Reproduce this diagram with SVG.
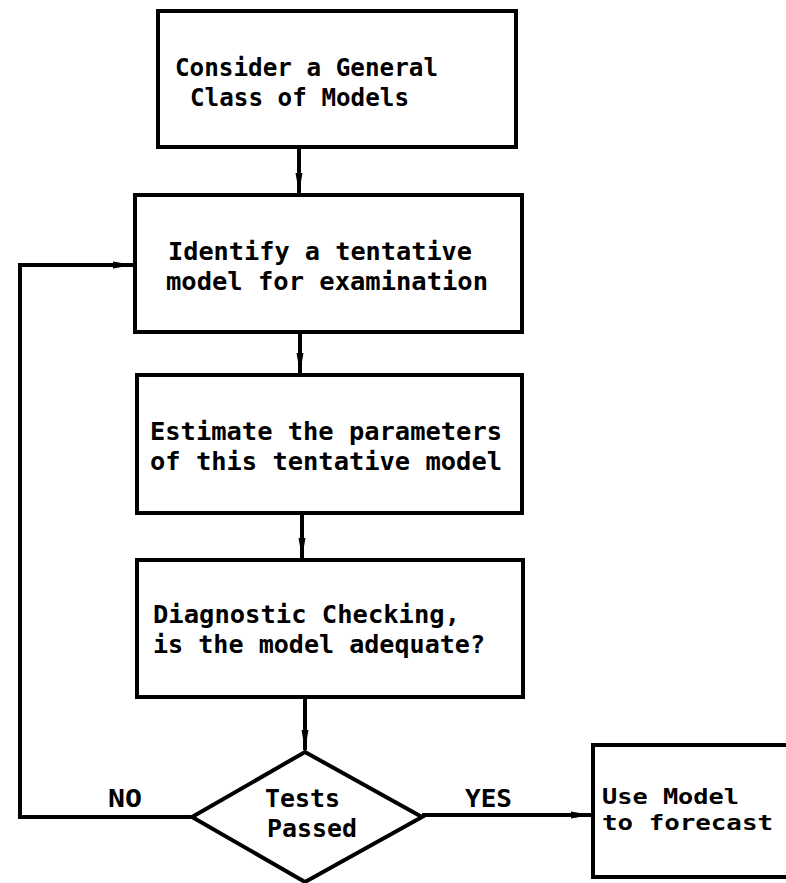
<svg xmlns="http://www.w3.org/2000/svg" width="786" height="883" viewBox="0 0 786 883">
<style>
.box{fill:#fff;stroke:#000;stroke-width:4}
.ln{fill:none;stroke:#000;stroke-width:4}
text{font-family:"DejaVu Sans Mono","Liberation Mono",monospace;font-weight:bold;font-size:25px;fill:#000}
.s22{font-size:22px}
</style>
<defs>
<marker id="ah" viewBox="0 0 20 10" refX="20" refY="5" markerWidth="20" markerHeight="10" markerUnits="userSpaceOnUse" orient="auto">
<path d="M0,1.5 L20,5 L0,8.5 Z" fill="#000"/>
</marker>
</defs>
<rect width="786" height="883" fill="#fff"/>
<g id="connectors">
<line class="ln" x1="299" y1="147" x2="299" y2="193" marker-end="url(#ah)"/>
<line class="ln" x1="300" y1="332" x2="300" y2="373" marker-end="url(#ah)"/>
<line class="ln" x1="302" y1="513" x2="302" y2="558" marker-end="url(#ah)"/>
<line class="ln" x1="305" y1="697" x2="305" y2="750" marker-end="url(#ah)"/>
<polyline class="ln" points="192,817 20,817 20,265 133,265" marker-end="url(#ah)"/>
<line class="ln" x1="422" y1="815" x2="591" y2="815" marker-end="url(#ah)"/>
<text id="lbl-no" x="108" y="807" textLength="34" lengthAdjust="spacingAndGlyphs">NO</text>
<text id="lbl-yes" x="465" y="807" textLength="47" lengthAdjust="spacingAndGlyphs">YES</text>
</g>
<g id="n1">
<rect class="box" x="158" y="11" width="358" height="136"/>
<text x="175" y="76" textLength="263" lengthAdjust="spacingAndGlyphs">Consider a General</text>
<text x="190" y="106" textLength="219" lengthAdjust="spacingAndGlyphs">Class of Models</text>
</g>
<g id="n2">
<rect class="box" x="135" y="195" width="387" height="137"/>
<text x="168" y="260" textLength="304" lengthAdjust="spacingAndGlyphs">Identify a tentative</text>
<text x="166" y="290" textLength="322" lengthAdjust="spacingAndGlyphs">model for examination</text>
</g>
<g id="n3">
<rect class="box" x="137" y="375" width="385" height="138"/>
<text x="150" y="440" textLength="352" lengthAdjust="spacingAndGlyphs">Estimate the parameters</text>
<text x="150" y="470" textLength="352" lengthAdjust="spacingAndGlyphs">of this tentative model</text>
</g>
<g id="n4">
<rect class="box" x="137" y="560" width="386" height="137"/>
<text x="153" y="623" textLength="307" lengthAdjust="spacingAndGlyphs">Diagnostic Checking,</text>
<text x="153" y="653" textLength="332" lengthAdjust="spacingAndGlyphs">is the model adequate?</text>
</g>
<g id="n5">
<polygon class="box" points="305,752 422,817 305,882 192,817"/>
<text x="265" y="807" textLength="75" lengthAdjust="spacingAndGlyphs">Tests</text>
<text x="267" y="837" textLength="90" lengthAdjust="spacingAndGlyphs">Passed</text>
</g>
<g id="n6">
<rect class="box" x="593" y="745" width="220" height="132"/>
<text x="602" y="804" class="s22" textLength="137" lengthAdjust="spacingAndGlyphs">Use Model</text>
<text x="602" y="830" class="s22" textLength="171" lengthAdjust="spacingAndGlyphs">to forecast</text>
</g>
</svg>
